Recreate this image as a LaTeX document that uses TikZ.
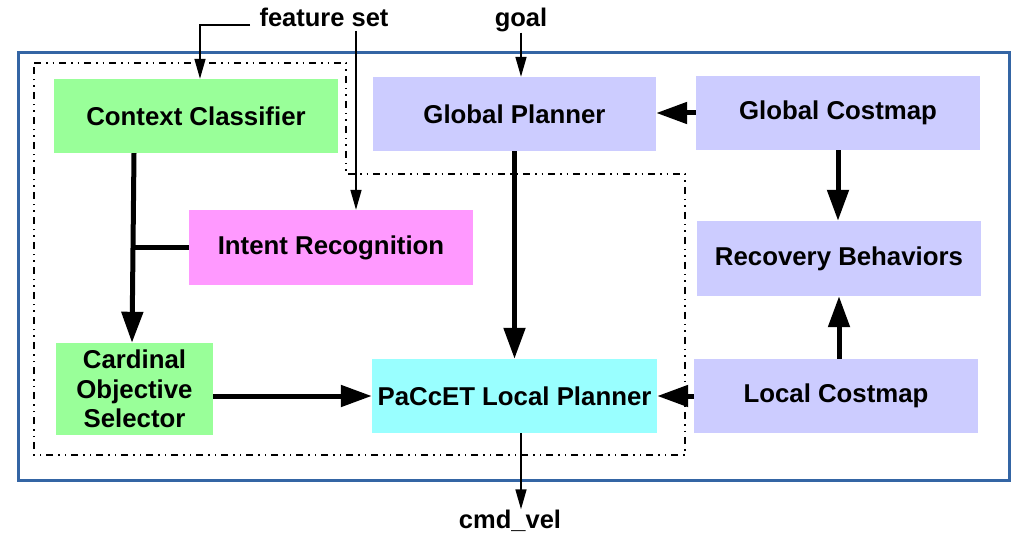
\documentclass[tikz,border=0pt]{standalone}
\usepackage{fontspec}
\setmainfont{Liberation Sans}
\usetikzlibrary{arrows.meta}
\definecolor{frameblue}{RGB}{52,101,164}
\definecolor{boxgreen}{RGB}{153,255,153}
\definecolor{boxlav}{RGB}{204,204,255}
\definecolor{boxpink}{RGB}{255,153,255}
\definecolor{boxcyan}{RGB}{153,255,255}
\begin{document}
\begin{tikzpicture}[x=1pt,y=-1pt,
  box/.style={rectangle, inner sep=0pt, align=center,
    font=\fontsize{25.8}{29.5}\selectfont\bfseries},
  lbl/.style={inner sep=0pt, anchor=base, font=\fontsize{25.5}{29.5}\selectfont\bfseries},
  heavy/.style={line width=5pt, -{Triangle[length=31pt,width=21pt]}},
  heavyline/.style={line width=5pt},
  thinarrow/.style={line width=1.5pt, -{Triangle[length=20pt,width=11pt]}},
  groupline/.style={line width=1.5pt, dash pattern=on 7pt off 5pt on 1.5pt off 5pt on 1.5pt off 5pt}]
\useasboundingbox (0,0) rectangle (1021,540);
% outer frame
\draw[frameblue, line width=3pt] (18,53) rectangle (1009,480);
% dash-dot group
\draw[groupline] (34,63) -- (346,63) -- (346,174) -- (685,174) -- (685,455) -- (34,455) -- cycle;
% boxes
\node[box, fill=boxgreen, minimum width=284pt, minimum height=74pt] (cc) at (196,116) {Context Classifier};
\node[box, fill=boxlav, minimum width=283pt, minimum height=74pt] (gp) at (514.5,114) {Global Planner};
\node[box, fill=boxlav, minimum width=284pt, minimum height=74pt] (gc) at (838,113) {Global Costmap};
\node[box, fill=boxpink, minimum width=284pt, minimum height=75pt] (ir) at (331,247.5) {Intent Recognition};
\node[box, fill=boxgreen, minimum width=157pt, minimum height=92pt] (cos) at (134.5,389) {Cardinal\\Objective\\Selector};
\node[box, fill=boxcyan, minimum width=285pt, minimum height=74pt] (pl) at (514.5,396) {PaCcET Local Planner};
\node[box, fill=boxlav, minimum width=284pt, minimum height=75pt] (rb) at (839,258.5) {Recovery Behaviors};
\node[box, fill=boxlav, minimum width=284pt, minimum height=74pt] (lc) at (836,396) {Local Costmap};
% labels
\node[lbl] (fs) at (324,27) {feature set};
\node[lbl] (goal) at (521,27) {goal};
\node[lbl] (cmd) at (510,528) {cmd\_vel};
% feature set connectors
\coordinate (fsA) at (250,25);
\coordinate (fsB) at (356,31);
\draw[thinarrow] (fsA) -| ([xshift=4pt]cc.north);
\draw[thinarrow] (fsB) -- (fsB |- ir.north);
% goal
\draw[thinarrow] (goal.south) -- (goal.south |- gp.north);
% heavy connectors
\draw[heavy] ([xshift=-62pt]cc.south) -- ([xshift=-2.5pt]cos.north);
\draw[heavyline] (ir.west) -- ++(-56,0);
\draw[heavy] (gp.south) -- (pl.north);
\draw[heavy] (gc.west) -- (gc.west -| gp.east);
\draw[heavy] (gc.south) -- (gc.south |- rb.north);
\draw[heavy] (rb.south |- lc.north) -- (rb.south);
\draw[heavy] (lc.west) -- (pl.east);
\draw[heavy] (pl.west -| cos.east) -- (pl.west);
% output
\draw[thinarrow] ([xshift=6.5pt]pl.south) -- ([xshift=6.5pt]pl.south |- cmd.north);
\end{tikzpicture}
\end{document}
